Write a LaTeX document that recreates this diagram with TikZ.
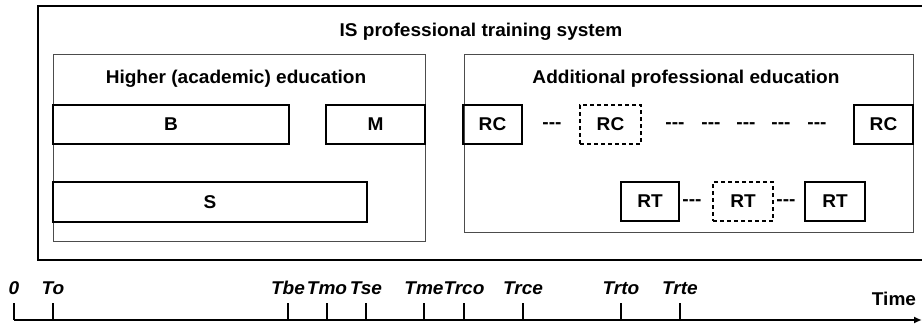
\documentclass[tikz,border=0pt]{standalone}
\usepackage{fontspec}
\setmainfont{Liberation Sans}[FakeStretch=1.03]
\usepackage{tikz}
\usetikzlibrary{arrows.meta}

\newcommand{\gapmark}{-\kern0pt-\kern0pt-}

\begin{document}
\begin{tikzpicture}[
  x=1pt, y=-1pt,
  font=\fontsize{18.5}{20}\selectfont\bfseries,
  frame/.style={rectangle, draw=black!70, line width=1pt, inner sep=0pt},
  box/.style={rectangle, draw, line width=2.5pt, inner sep=0pt, minimum height=39pt},
  dbox/.style={box, dash pattern=on 4pt off 3pt},
  heading/.style={anchor=base},
  gap/.style={anchor=base},
  tlab/.style={anchor=base, font=\fontsize{18.5}{20}\selectfont\bfseries\itshape},
  axis/.style={-{Latex[length=8pt,width=7pt]}, line width=2pt},
  tick/.style={line width=1.3pt}
]
\useasboundingbox (0,0) rectangle (922,324);
\clip (0,0) rectangle (922,324);

% Frames
\node[frame, draw=black, line width=1.3pt, minimum width=890pt, minimum height=254pt] (system) at (483,133) {};
\node[frame, minimum width=372pt, minimum height=187pt] (higher) at (239,147.5) {};
\node[frame, minimum width=449pt, minimum height=178pt] (additional) at (688.5,143) {};

% Headings
\node[heading] (systitle) at (481,36) {IS professional training system};
\node[heading] (hightitle) at (236,83) {Higher (academic) education};
\node[heading] (addtitle) at (686,83) {Additional professional education};

% Row 1
\node[box, minimum width=236pt] (B) at (171,124.5) {B};
\node[box, minimum width=99pt] (M) at (375.5,124.5) {M};
\node[box, minimum width=59pt] (rc1) at (492.5,124.5) {RC};
\node[dbox, minimum width=61pt] (rc2) at (610.5,124.5) {RC};
\node[box, minimum width=59pt] (rc3) at (883.5,124.5) {RC};

% Row 2
\node[box, minimum width=314pt, minimum height=40pt] (S) at (210,202) {S};
\node[box, minimum width=58pt] (rt1) at (650,201.5) {RT};
\node[dbox, minimum width=60pt] (rt2) at (743,201.5) {RT};
\node[box, minimum width=60pt] (rt3) at (835,201.5) {RT};

% Gaps between courses
\node[gap] (g1) at (552,128) {\gapmark};
\foreach \x [count=\i from 2] in {675,711,746,781,817}
  \node[gap] (g\i) at (\x,128) {\gapmark};
\node[gap] (g7) at (692,205) {\gapmark};
\node[gap] (g8) at (786,205) {\gapmark};

% Time axis
\coordinate (origin) at (14,320);
\coordinate (tend) at (922,320);
\draw[axis] (origin) -- (tend);
\foreach \x/\lab in {14/0, 53/To, 288/Tbe, 327/Tmo, 366/Tse, 424/Tme, 464/Trco, 523/Trce, 621/Trto, 680/Trte} {
  \coordinate (tk-\lab) at (\x,320);
  \draw[tick] (tk-\lab) -- ++(0,-17);
  \node[tlab] (lab-\lab) at (\x,294) {\lab};
}
\node[anchor=base] (time) at (894,305) {Time};

\end{tikzpicture}
\end{document}
